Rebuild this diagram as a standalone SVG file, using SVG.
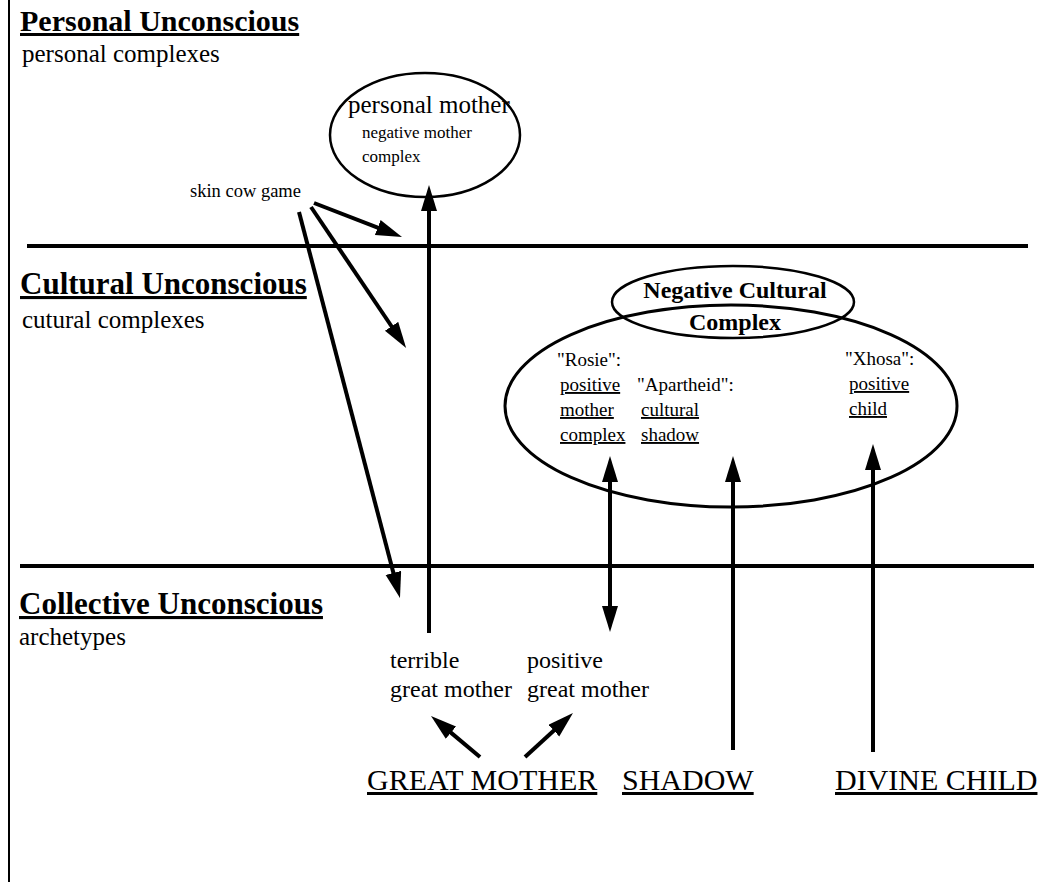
<svg xmlns="http://www.w3.org/2000/svg" width="1046" height="882" viewBox="0 0 1046 882">
<style>
text{font-family:"Liberation Serif","Times New Roman",serif;fill:#000}
.h{font-size:31px;font-weight:bold;text-decoration:underline}
.sub{font-size:25px}
.m{font-size:19px}
.u{text-decoration:underline}
.b{font-size:30px;text-decoration:underline}
.g{font-size:24px}
.line{stroke:#000;stroke-width:4;fill:none}
.arr{stroke:#000;stroke-width:4;fill:none;marker-end:url(#ah)}
.ell{fill:none;stroke:#000;stroke-width:2.5}
</style>
<defs>
<marker id="ah" markerUnits="userSpaceOnUse" markerWidth="30" markerHeight="20" refX="2" refY="8" orient="auto-start-reverse"><path d="M0,0 L26,8 L0,16 Z" fill="#000"/></marker>
</defs>
<rect width="1046" height="882" fill="#fff"/>
<line x1="9" y1="0" x2="9" y2="882" stroke="#000" stroke-width="2"/>
<g id="levels">
<line class="line" x1="27" y1="246" x2="1028" y2="246"/>
<line class="line" x1="20" y1="566" x2="1034" y2="566"/>
<text class="h" x="20" y="31" style="font-size:30px">Personal Unconscious</text>
<text class="sub" x="22" y="62">personal complexes</text>
<text class="h" x="20" y="294">Cultural Unconscious</text>
<text class="sub" x="22" y="328">cutural complexes</text>
<text class="h" x="19" y="614">Collective Unconscious</text>
<text class="sub" x="19" y="645">archetypes</text>
</g>
<g id="personal-mother">
<ellipse class="ell" cx="425" cy="135" rx="95" ry="62"/>
<text x="348" y="113" style="font-size:25px">personal mother</text>
<text x="362" y="138" style="font-size:17px">negative mother</text>
<text x="362" y="162" style="font-size:17px">complex</text>
</g>
<g id="skin-cow-game">
<text x="190" y="197" style="font-size:18.5px">skin cow game</text>
</g>
<g id="negative-cultural-complex">
<ellipse class="ell" cx="731" cy="406" rx="226" ry="101" style="stroke-width:3"/>
<ellipse class="ell" cx="733" cy="302" rx="121" ry="36"/>
<text x="735" y="298" text-anchor="middle" style="font-size:24px;font-weight:bold">Negative Cultural</text>
<text x="735" y="330" text-anchor="middle" style="font-size:24px;font-weight:bold">Complex</text>
</g>
<g id="rosie">
<text class="m" x="557" y="366">"Rosie":</text>
<text class="m u" x="560" y="391">positive</text>
<text class="m u" x="560" y="416">mother</text>
<text class="m u" x="560" y="441">complex</text>
</g>
<g id="apartheid">
<text class="m" x="637" y="391">"Apartheid":</text>
<text class="m u" x="641" y="416">cultural</text>
<text class="m u" x="641" y="441">shadow</text>
</g>
<g id="xhosa">
<text class="m" x="845" y="365">"Xhosa":</text>
<text class="m u" x="849" y="390">positive</text>
<text class="m u" x="849" y="415">child</text>
</g>
<g id="terrible-great-mother">
<text class="g" x="390" y="668">terrible</text>
<text class="g" x="390" y="697">great mother</text>
</g>
<g id="positive-great-mother">
<text class="g" x="527" y="668">positive</text>
<text class="g" x="527" y="697">great mother</text>
</g>
<g id="great-mother"><text class="b" x="367" y="790">GREAT MOTHER</text></g>
<g id="shadow"><text class="b" x="622" y="790">SHADOW</text></g>
<g id="divine-child"><text class="b" x="835" y="790">DIVINE CHILD</text></g>
<g id="connectors">
<line class="arr" x1="429" y1="633" x2="429" y2="209"/>
<line class="arr" x1="314" y1="203" x2="379.6" y2="228.3"/>
<line class="arr" x1="311" y1="207" x2="392.7" y2="328"/>
<line class="arr" x1="299" y1="212" x2="393.9" y2="574.8"/>
<line class="arr" x1="610" y1="480" x2="610" y2="608" style="marker-start:url(#ah)"/>
<line class="arr" x1="733" y1="750" x2="733" y2="480"/>
<line class="arr" x1="873" y1="752" x2="873" y2="468"/>
<line class="arr" x1="480" y1="757" x2="449.4" y2="731.4"/>
<line class="arr" x1="525" y1="757" x2="555.3" y2="729.2"/>
</g>
</svg>
